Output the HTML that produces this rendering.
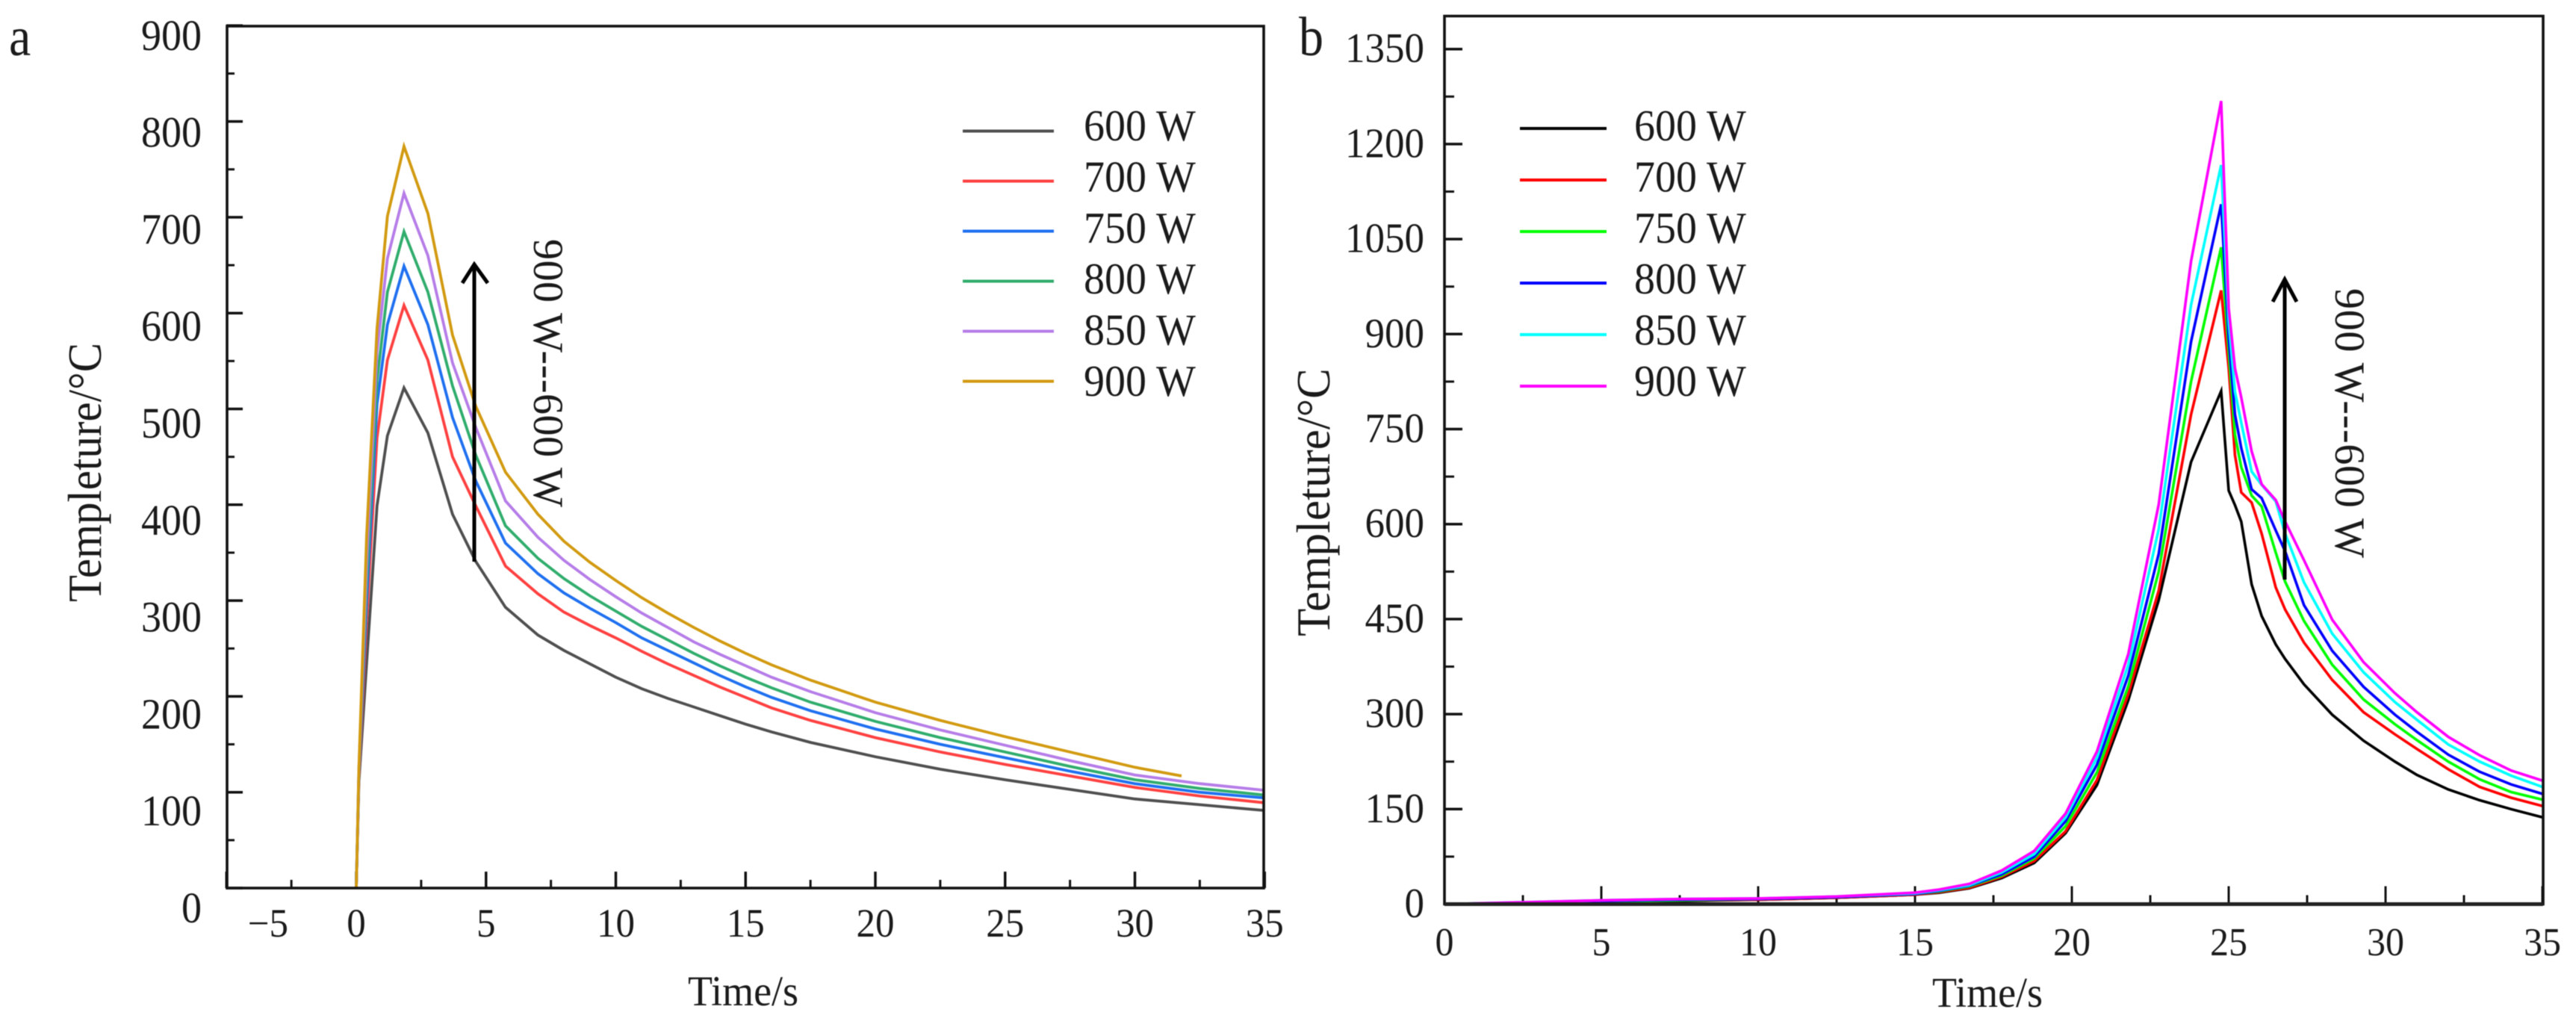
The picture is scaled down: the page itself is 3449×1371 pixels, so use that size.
<!DOCTYPE html>
<html lang="en">
<head>
<meta charset="utf-8">
<title>Temperature versus time at laser powers from 600 W to 900 W</title>
<style>
html,body{margin:0;padding:0;background:#fff;}
svg{display:block;font-family:"Liberation Serif","Times New Roman",serif;filter:blur(0.6px);}
</style>
</head>
<body>
<svg id="figure" xmlns="http://www.w3.org/2000/svg" width="3449" height="1371" viewBox="0 0 3449 1371">
  <rect x="0" y="0" width="3449" height="1371" fill="#ffffff"/>
  <g id="panelA"></g>
  <g id="panelB"></g>
</svg>
<script>
// Panel a data
const legendLabels = ["600 W", "700 W", "750 W", "800 W", "850 W", "900 W"];
const timeA = [0,0.1,0.4,0.8,1.2,1.84,2.76,3.71,4.6,5.75,7,8,9,10,11,12,13,14,15,16,17.5,20,22.5,25,27.5,30,32.5,35];
const timeA900 = [0,0.1,0.4,0.8,1.2,1.84,2.76,3.71,4.6,5.75,7,8,9,10,11,12,13,14,15,16,17.5,20,22.5,25,27.5,30,31.8];
const a600 = [0,110,235,399,472,522,475,390,341,293,264,248,234,220,208,198,189,180,171,163,152,137,124,113,103,93,87,81];
const a700 = [0,115,280,470,551,608,551,450,399,336,307,288,274,261,247,234,222,210,199,188,175,157,142,129,117,105,96,89];
const a750 = [0,118,300,505,588,649,588,491,425,360,328,308,292,277,261,248,235,222,210,199,185,166,150,136,122,109,100,94];
const a800 = [0,120,320,530,622,685,622,524,452,378,344,323,305,289,273,259,245,232,220,209,194,174,157,142,127,113,104,97];
const a850 = [0,122,340,560,657,725,660,548,481,404,366,342,322,304,287,272,257,244,232,220,205,183,165,149,133,118,109,102];
const a900 = [0,125,368,584,701,774,704,577,503,434,390,362,340,321,303,287,272,258,245,233,217,194,175,158,142,126,117];
const xTicksA = [-5,0,5,10,15,20,25,30,35];
const yTicksA = [0,100,200,300,400,500,600,700,800,900];
const xMinorA = [-2.5,2.5,7.5,12.5,17.5,22.5,27.5,32.5];
const yMinorA = [50,150,250,350,450,550,650,750,850];
const coloursA = ["#4f4f4f","#ff4040","#1f70f0","#30ad6c","#b67de8","#d29a10"];

// Panel b data
const timeB = [0,2.5,5,7.5,10,12.5,15,15.77,16.73,17.76,18.8,19.8,20.8,21.8,22.77,23.8,24.76,25,25.2,25.4,25.73,26.05,26.5,26.8,27.4,28.3,29.3,30.3,31,32,33,34,35];
const b600 = [0,1,3,5,7,10,15,18,25,41,65,112,188,322,480,698,810,653,630,604,505,455,410,387,347,299,258,225,204,181,164,150,137];
const b700 = [0,2,4,6,7,10,15,19,26,43,68,115,196,332,495,773,969,846,709,650,634,585,500,465,413,354,303,268,245,213,185,168,155];
const b750 = [0,2,4,6,8,11,16,20,28,45,72,123,208,344,525,825,1037,873,741,690,645,628,555,509,447,378,323,284,259,225,197,177,165];
const b800 = [0,2,5,7,8,11,16,21,29,47,75,131,220,361,553,888,1105,894,773,720,655,641,590,557,472,400,343,299,272,236,209,189,174];
const b850 = [0,3,6,8,9,12,17,22,30,50,79,137,231,378,592,946,1167,920,809,760,683,662,636,585,508,427,366,319,291,252,225,203,185];
const b900 = [0,3,6,8,9,12,18,23,32,53,84,143,241,395,631,1015,1268,941,846,800,715,663,638,604,543,449,382,333,303,264,235,211,195];
const xTicksB = [0,5,10,15,20,25,30,35];
const yTicksB = [0,150,300,450,600,750,900,1050,1200,1350];
const xMinorB = [2.5,7.5,12.5,17.5,22.5,27.5,32.5];
const yMinorB = [75,225,375,525,675,825,975,1125,1275];
const coloursB = ["#000000","#ff0000","#00ff00","#0000ff","#00ffff","#ff00ff"];

const arrowCaption = "900 W---600 W";
const NS = "http://www.w3.org/2000/svg";

// Axis functions
function xA(t){ return 477 + 34.75 * t; }
function yA(v){ return 1189 - 1.283 * v; }
function yLabelA(v){ return 1235 - 1.298 * v; }
function xB(t){ return 1934 + 42 * t; }
function yB(v){ return 1210.5 - 0.848 * v; }

function make(parent, tag, attrs){
  const el = document.createElementNS(NS, tag);
  for (const k in attrs) el.setAttribute(k, attrs[k]);
  parent.appendChild(el);
  return el;
}
function line(parent, x1, y1, x2, y2, w, colour){
  return make(parent, "line", {x1:x1, y1:y1, x2:x2, y2:y2, stroke:colour || "#111", "stroke-width":w});
}
function label(parent, x, y, str, size, anchor, sy, rot){
  const tf = "translate(" + x + " " + y + ")" + (rot ? " rotate(" + rot + ")" : "") + " scale(1 " + (sy || 1) + ")";
  const el = make(parent, "text", {transform:tf, "font-size":size, "text-anchor":anchor || "start", fill:"#1a1a1a"});
  el.textContent = str;
  return el;
}
function polyline(parent, ts, vs, fx, fy, colour, w){
  let pts = "";
  for (let i = 0; i < ts.length; i++) pts += fx(ts[i]).toFixed(1) + "," + fy(vs[i]).toFixed(1) + " ";
  return make(parent, "polyline", {points:pts.trim(), fill:"none", stroke:colour, "stroke-width":w, "stroke-linejoin":"miter", "stroke-miterlimit":6});
}

// ---------- Panel a ----------
(function(){
  const g = document.getElementById("panelA");
  const seriesA = [a600, a700, a750, a800, a850, a900];
  let el;

  el = label(g, 12, 74, "a", 66, "start", 1.12);
  
  

  xTicksA.forEach(function(v){
    el = line(g, xA(v), yA(0), xA(v), yA(0) - 22, 3.5);
    
    
    el = label(g, v < 0 ? xA(-3.4) : xA(v), 1254, String(v).replace("-", "\u2212"), 51, "middle", 1.05);
    
    
  });
  xMinorA.forEach(function(v){
    el = line(g, xA(v), yA(0), xA(v), yA(0) - 11, 3);
    
    
  });
  yTicksA.forEach(function(v){
    el = line(g, 303, yA(v), 325, yA(v), 3.5);
    
    
    el = label(g, 270, yLabelA(v), String(v), 54, "end", 1.07);
    
    
  });
  yMinorA.forEach(function(v){
    el = line(g, 303, yA(v), 314, yA(v), 3);
    
    
  });

  seriesA.forEach(function(vs, i){
    const isLast = i === seriesA.length - 1;
    el = polyline(g, isLast ? timeA900 : timeA, vs, xA, yA, coloursA[i], 3.8);
    
    
    const ly = 175.5 + i * 67;
    el = line(g, 1289, ly, 1411, ly, 4, coloursA[i]);
    
    
    el = label(g, 1451, 188 + i * 68.4, legendLabels[i], 56, "start", 1.05);
    
    
  });

  el = make(g, "rect", {x:304, y:35, width:1388, height:1154, fill:"none", stroke:"#111", "stroke-width":3.6});
  
  

  el = make(g, "path", {d:"M635 752V354M619 379L635 354L653 379", fill:"none", stroke:"#000", "stroke-width":5});
  
  

  el = label(g, 715, 320, arrowCaption, 56, "start", 1.03, 90);
  el.setAttribute('textLength', '359');
  
  

  el = label(g, 135, 806, "Templeture/\u00B0C", 59, "start", 1.08, -90);
  
  

  el = label(g, 921, 1346, "Time/s", 54, "start", 1.05);
  
  
})();

// ---------- Panel b ----------
(function(){
  const g = document.getElementById("panelB");
  const seriesB = [b600, b700, b750, b800, b850, b900];
  let el;

  el = label(g, 1739, 74, "b", 66, "start", 1.12);
  
  

  xTicksB.forEach(function(v){
    el = line(g, xB(v), yB(0), xB(v), yB(0) - 24, 3);
    
    
    el = label(g, xB(v), 1279, String(v), 50, "middle", 1.05);
    
    
  });
  xMinorB.forEach(function(v){
    el = line(g, xB(v), yB(0), xB(v), yB(0) - 12, 3);
    
    
  });
  yTicksB.forEach(function(v){
    el = line(g, 1934, yB(v), 1958, yB(v), 3.5);
    
    
    el = label(g, 1907, yB(v) + 17.5, String(v), 53, "end", 1.05);
    
    
  });
  yMinorB.forEach(function(v){
    el = line(g, 1934, yB(v), 1947, yB(v), 3);
    
    
  });

  seriesB.forEach(function(vs, i){
    el = polyline(g, timeB, vs, xB, yB, coloursB[i], 3.6);
    
    
    const ly = 172 + i * 69;
    el = line(g, 2035, ly, 2151, ly, 4, coloursB[i]);
    
    
    el = label(g, 2188, 188 + i * 68.4, legendLabels[i], 56, "start", 1.05);
    
    
  });

  el = make(g, "path", {d:"M1934 21.5H3405V1210.5H1934Z", fill:"none", stroke:"#111", "stroke-width":3.6});
  
  

  el = line(g, 1934, 1210.5, 3405, 1210.5, 5, "#222");
  
  

  el = make(g, "path", {d:"M3059 776V374M3043 404L3059 374L3075 404", fill:"none", stroke:"#000", "stroke-width":5});
  
  

  el = label(g, 3127, 386, arrowCaption, 56, "start", 1.03, 90);
  el.setAttribute('textLength', '361');
  
  

  el = label(g, 1780, 852, "Templeture/\u00B0C", 61, "start", 1.05, -90);
  
  

  el = label(g, 2587, 1348, "Time/s", 54, "start", 1.05);
  
  
})();
</script>
</body>
</html>
